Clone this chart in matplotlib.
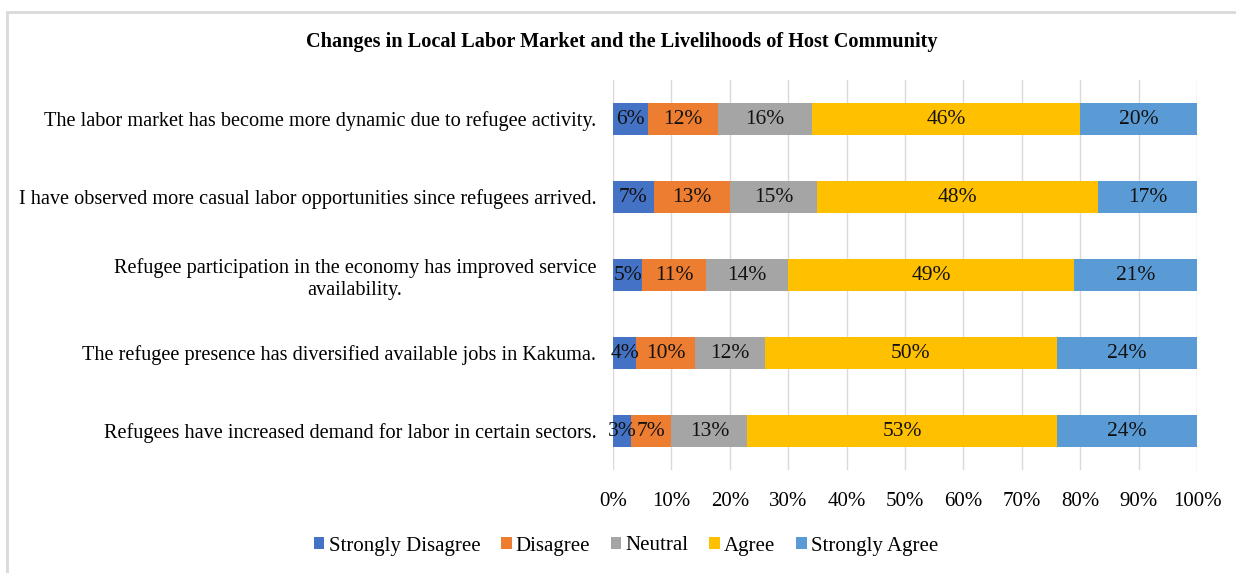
import matplotlib
matplotlib.use("Agg")
import matplotlib.pyplot as plt
from matplotlib.patches import Rectangle
import numpy as np

plt.rcParams['font.family'] = ['Liberation Serif', 'DejaVu Serif']

statements = [
    "The labor market has become more dynamic due to refugee activity.",
    "I have observed more casual labor opportunities since refugees arrived.",
    "Refugee participation in the economy has improved service\navailability.",
    "The refugee presence has diversified available jobs in Kakuma.",
    "Refugees have increased demand for labor in certain sectors.",
]
responses = ["Strongly Disagree", "Disagree", "Neutral", "Agree", "Strongly Agree"]
strongly_disagree = [6, 7, 5, 4, 3]
disagree = [12, 13, 11, 10, 7]
neutral = [16, 15, 14, 12, 13]
agree = [46, 48, 49, 50, 53]
strongly_agree = [20, 17, 21, 24, 24]
tick_values = [0, 10, 20, 30, 40, 50, 60, 70, 80, 90, 100]
colors = ["#4472C4", "#ED7D31", "#A5A5A5", "#FFC000", "#5B9BD5"]

W, H = 1236, 573
fig = plt.figure(figsize=(W / 100, H / 100), dpi=100)

# outer chart frame
fig.patches.append(Rectangle((7 / W, -0.05), 1.2, (H - 12) / H + 0.05,
                             transform=fig.transFigure, fill=False,
                             edgecolor="#D9D9D9", linewidth=2.0))

ax = fig.add_axes([613 / W, 1 - 470 / H, (1197 - 613) / W, 390 / H])

series = [strongly_disagree, disagree, neutral, agree, strongly_agree]
y = np.arange(len(statements))
left = np.zeros(len(statements))
for name, vals, c in zip(responses, series, colors):
    vals = np.array(vals, dtype=float)
    ax.barh(y, vals, left=left, height=0.4, color=c, label=name, zorder=3)
    for yi, l, v in zip(y, left, vals):
        ax.text(l + v / 2, yi, f"{int(v)}%", ha="center", va="center",
                fontsize=15.5, color="#111111", zorder=4)
    left += vals

ax.set_xlim(0, 100)
ax.set_ylim(len(statements) - 0.5, -0.5)
ax.set_yticks(y)
ax.set_yticklabels(statements, fontsize=14.6, multialignment="center")
ax.set_xticks(tick_values)
ax.set_xticklabels([f"{t}%" for t in tick_values], fontsize=15)
ax.tick_params(axis="both", length=0)
ax.tick_params(axis="x", pad=16)
ax.tick_params(axis="y", pad=12)
ax.grid(axis="x", color="#D9D9D9", linewidth=1.0, zorder=0)
for s in ax.spines.values():
    s.set_visible(False)

fig.text(622 / W, 1 - 42 / H, "Changes in Local Labor Market and the Livelihoods of Host Community",
         ha="center", va="center", fontsize=14.6, fontweight="bold")

handles, labels = ax.get_legend_handles_labels()
fig.legend(handles, labels, loc="center", bbox_to_anchor=(626 / W, 1 - 546 / H),
           ncol=5, frameon=False, fontsize=15, handlelength=0.5, handleheight=0.5,
           handletextpad=0.2, columnspacing=1.0)

fig.savefig("out.png", dpi=100, facecolor="white")
